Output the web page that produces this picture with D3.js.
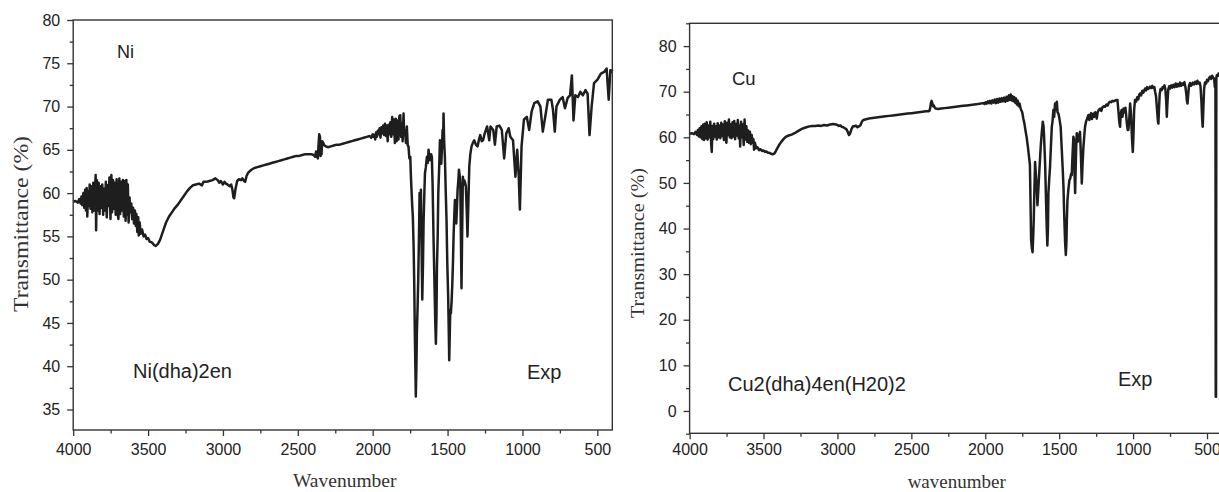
<!DOCTYPE html>
<html>
<head>
<meta charset="utf-8">
<script src="https://cdn.jsdelivr.net/npm/d3@7/dist/d3.min.js"></script>
<style>
  html, body { margin: 0; padding: 0; background: #fff; }
  svg { display: block; }
</style>
</head>
<body>
<svg id="chart" width="1219" height="492"></svg>
<script>
// ---------------- DATA ----------------
const xMajorTicks = [4000, 3500, 3000, 2500, 2000, 1500, 1000, 500];
const xMinorTicks = [3750, 3250, 2750, 2250, 1750, 1250, 750];
const niYTicks = [35, 40, 45, 50, 55, 60, 65, 70, 75, 80];
const niYMinor = [37.5, 42.5, 47.5, 52.5, 57.5, 62.5, 67.5, 72.5, 77.5];
const cuYTicks = [0, 10, 20, 30, 40, 50, 60, 70, 80];
const cuYMinor = [-5, 5, 15, 25, 35, 45, 55, 65, 75, 85];

const niLabels = ["Ni", "Ni(dha)2en", "Exp"];
const cuLabels = ["Cu", "Cu2(dha)4en(H20)2", "Exp"];

// Ni(dha)2en spectrum: [wavenumber, transmittance %]
const niSpectrum = [
[4000,59.0],[3985,59.1],[3970,58.9],[3960,59.3],[3950,58.8],[3945,59.6],[3940,58.6],[3932,60.0],[3926,58.3],[3920,60.4],
[3915,58.0],[3910,60.6],[3906,57.3],[3900,60.2],[3895,58.5],[3890,61.0],[3884,58.2],[3878,60.8],[3872,57.8],[3866,61.2],
[3860,58.0],[3854,60.5],[3850,62.1],[3847,55.7],[3842,61.5],[3836,58.0],[3830,61.2],[3824,57.6],[3818,60.8],[3812,58.3],
[3806,61.0],[3800,57.5],[3794,60.5],[3788,58.0],[3782,61.3],[3776,57.2],[3770,60.9],[3764,58.5],[3758,61.8],[3751,57.0],
[3745,62.1],[3740,57.8],[3734,61.5],[3728,58.2],[3722,61.2],[3716,57.5],[3710,61.6],[3703,57.7],[3698,57.0],[3692,61.7],
[3686,57.6],[3680,61.3],[3674,58.0],[3668,61.5],[3662,57.3],[3656,61.4],[3650,56.8],[3645,61.5],[3640,57.5],[3635,61.0],
[3630,56.6],[3624,59.5],[3618,57.8],[3612,58.8],[3606,57.0],[3600,58.3],[3594,56.5],[3588,58.0],[3582,56.2],[3578,57.6],
[3572,55.5],[3566,57.2],[3562,55.1],[3556,56.6],[3550,55.3],[3540,55.8],[3530,55.0],[3520,55.2],[3510,54.7],[3500,54.8],
[3490,54.4],[3475,54.3],[3460,54.0],[3448,53.9],[3435,54.1],[3420,54.6],[3400,55.6],[3380,56.6],[3360,57.3],[3340,57.8],
[3320,58.3],[3300,58.7],[3280,59.2],[3260,59.7],[3240,60.2],[3220,60.6],[3200,60.9],[3180,61.0],[3160,61.1],[3140,60.9],
[3130,61.3],[3110,61.3],[3090,61.4],[3070,61.5],[3050,61.7],[3035,61.5],[3025,61.2],[3015,61.4],[3000,61.0],[2990,61.3],
[2980,61.1],[2970,61.0],[2955,60.8],[2945,61.0],[2937,60.4],[2930,59.5],[2925,59.4],[2916,60.5],[2905,61.4],[2893,61.6],
[2880,61.5],[2870,61.7],[2860,61.4],[2852,61.3],[2842,62.0],[2830,62.4],[2810,62.7],[2790,62.9],[2770,63.0],[2750,63.1],
[2730,63.2],[2710,63.3],[2690,63.4],[2670,63.5],[2650,63.6],[2630,63.7],[2610,63.8],[2590,63.9],[2570,64.0],[2550,64.1],
[2530,64.2],[2510,64.3],[2490,64.3],[2470,64.4],[2450,64.5],[2430,64.5],[2410,64.5],[2395,64.4],[2385,64.2],[2378,64.8],
[2372,64.2],[2366,64.0],[2362,65.5],[2357,66.8],[2352,66.5],[2348,64.3],[2342,64.5],[2337,66.0],[2330,65.8],[2322,65.5],
[2312,65.4],[2300,65.3],[2280,65.4],[2260,65.5],[2240,65.6],[2220,65.6],[2200,65.7],[2180,65.8],[2160,65.9],[2140,66.0],
[2120,66.1],[2100,66.2],[2080,66.3],[2060,66.4],[2040,66.5],[2020,66.6],[2010,66.4],[2000,66.8],[1995,66.5],[1990,66.7],
[1983,66.2],[1978,67.0],[1972,66.5],[1966,67.2],[1960,66.8],[1954,67.5],[1948,66.4],[1942,67.6],[1936,66.9],[1930,67.8],
[1924,66.7],[1918,68.0],[1912,66.6],[1906,67.8],[1900,66.0],[1894,67.9],[1888,66.8],[1882,68.2],[1876,66.5],[1870,68.8],
[1864,66.8],[1858,68.5],[1852,65.8],[1846,68.6],[1840,66.0],[1834,68.4],[1828,66.2],[1822,68.9],[1816,69.0],[1810,66.5],
[1807,68.1],[1800,66.0],[1794,69.2],[1790,66.8],[1785,67.3],[1778,65.8],[1772,67.7],[1766,65.5],[1761,65.4],[1755,64.0],
[1749,64.2],[1745,62.0],[1741,60.4],[1736,58.5],[1732,57.3],[1727,54.0],[1723,50.0],[1718,43.0],[1712,36.5],[1708,40.0],
[1705,43.8],[1700,47.0],[1696,50.0],[1691,55.0],[1687,60.0],[1682,58.5],[1678,60.4],[1673,53.0],[1669,47.7],[1664,52.0],
[1660,56.9],[1655,60.0],[1651,62.3],[1645,63.0],[1638,64.2],[1632,63.5],[1627,65.0],[1621,64.0],[1616,63.8],[1610,64.5],
[1605,64.2],[1600,61.0],[1594,55.0],[1588,50.0],[1582,45.0],[1578,42.6],[1574,46.0],[1571,51.5],[1566,55.0],[1562,60.0],
[1556,63.0],[1551,66.1],[1546,64.5],[1542,63.4],[1537,65.5],[1533,67.3],[1530,66.0],[1527,69.2],[1523,66.0],[1518,64.2],
[1512,60.0],[1507,56.9],[1502,52.0],[1496,48.0],[1492,44.0],[1489,40.7],[1485,44.0],[1482,46.5],[1478,46.1],[1473,47.5],
[1469,49.2],[1464,52.0],[1460,55.0],[1456,57.0],[1451,59.2],[1446,57.5],[1442,56.5],[1437,58.5],[1433,60.4],[1428,61.5],
[1424,62.7],[1419,62.0],[1415,61.1],[1411,55.0],[1407,49.0],[1403,55.0],[1398,61.9],[1393,61.0],[1389,61.5],[1383,61.2],
[1378,60.8],[1372,58.0],[1367,55.0],[1361,59.0],[1355,63.1],[1348,64.5],[1340,65.4],[1331,65.8],[1322,66.1],[1311,65.6],
[1300,65.4],[1290,66.2],[1282,66.7],[1272,66.0],[1263,66.1],[1252,66.9],[1236,67.7],[1222,66.1],[1213,67.7],[1195,67.3],
[1184,65.6],[1172,67.7],[1154,67.8],[1138,67.3],[1122,64.0],[1108,66.9],[1092,67.5],[1081,66.5],[1063,66.1],[1047,61.9],
[1035,65.0],[1025,62.0],[1017,58.1],[1006,65.4],[990,68.5],[971,68.8],[955,67.3],[939,69.4],[921,70.4],[898,70.6],
[880,70.0],[864,67.1],[848,68.8],[830,70.8],[807,70.8],[796,69.6],[784,67.1],[773,70.0],[750,70.8],[732,71.1],
[716,69.8],[698,71.0],[682,71.3],[670,73.6],[659,68.4],[647,71.3],[629,71.1],[613,71.7],[597,71.3],[579,71.9],
[565,71.5],[552,66.7],[538,70.0],[522,72.7],[499,73.1],[476,73.8],[454,74.0],[438,74.4],[424,70.8],[413,74.2],
[405,74.0],[400,74.3]
];

// Cu2(dha)4en(H20)2 spectrum: [wavenumber, transmittance %]
const cuSpectrum = [
[4000,60.8],[3985,60.9],[3970,60.7],[3960,61.2],[3950,60.5],[3944,61.6],[3938,60.2],[3932,62.0],[3926,60.0],[3920,62.4],
[3914,59.6],[3908,62.8],[3902,59.4],[3896,63.0],[3890,59.8],[3884,63.3],[3878,59.5],[3872,62.6],[3866,60.0],[3860,63.4],
[3854,58.5],[3850,56.8],[3846,62.5],[3840,59.6],[3834,63.0],[3828,60.2],[3822,62.4],[3816,59.5],[3810,63.1],[3804,60.0],
[3798,62.6],[3792,59.8],[3786,63.2],[3780,60.3],[3774,62.8],[3768,59.4],[3762,63.5],[3756,60.0],[3751,58.8],[3746,63.2],
[3740,60.5],[3734,63.9],[3728,60.0],[3722,62.8],[3716,59.8],[3710,63.3],[3704,60.2],[3698,63.6],[3692,59.6],[3686,62.9],
[3680,60.4],[3674,63.8],[3668,59.8],[3662,62.5],[3658,58.0],[3652,63.4],[3646,60.0],[3640,62.8],[3634,58.3],[3628,63.9],
[3622,59.5],[3616,62.4],[3610,59.0],[3604,61.5],[3598,58.8],[3592,61.2],[3586,58.5],[3580,60.5],[3574,58.8],[3568,59.6],
[3564,57.3],[3558,58.8],[3550,57.6],[3540,57.8],[3530,57.2],[3520,57.4],[3510,57.0],[3500,57.1],[3490,56.8],[3480,56.9],
[3470,56.6],[3460,56.6],[3450,56.4],[3440,56.3],[3428,56.4],[3418,56.9],[3408,57.5],[3395,58.3],[3380,59.0],[3365,59.6],
[3350,60.1],[3330,60.4],[3310,60.6],[3290,60.9],[3270,61.3],[3250,61.7],[3230,62.0],[3210,62.2],[3190,62.4],[3170,62.5],
[3150,62.5],[3130,62.6],[3110,62.5],[3090,62.7],[3070,62.6],[3050,62.8],[3030,62.9],[3010,62.8],[3000,62.7],[2990,62.5],
[2980,62.6],[2970,62.3],[2960,62.2],[2950,62.0],[2940,61.8],[2930,61.2],[2922,60.5],[2915,60.8],[2905,61.8],[2895,62.4],
[2885,62.4],[2875,62.6],[2865,62.2],[2855,62.4],[2845,62.6],[2835,63.4],[2825,63.8],[2800,64.0],[2775,64.2],[2750,64.3],
[2725,64.4],[2700,64.5],[2675,64.6],[2650,64.7],[2625,64.8],[2600,64.9],[2575,65.0],[2550,65.1],[2525,65.2],[2500,65.3],
[2475,65.4],[2450,65.5],[2425,65.6],[2400,65.7],[2385,65.7],[2378,65.8],[2372,66.5],[2368,67.5],[2363,68.0],[2358,67.5],
[2353,66.8],[2348,67.0],[2343,66.6],[2335,66.3],[2320,66.2],[2300,66.3],[2275,66.4],[2250,66.5],[2225,66.6],[2200,66.7],
[2175,66.8],[2150,66.9],[2125,67.0],[2100,67.1],[2075,67.2],[2050,67.3],[2030,67.4],[2015,67.5],[2005,67.3],[1998,67.7],
[1990,67.4],[1982,67.9],[1975,67.5],[1968,68.0],[1960,67.4],[1952,68.1],[1944,67.6],[1936,68.3],[1928,67.5],[1920,68.4],
[1912,67.6],[1904,68.5],[1896,67.8],[1888,68.6],[1880,67.9],[1872,68.7],[1864,67.8],[1856,68.9],[1848,68.0],[1840,69.2],
[1834,68.2],[1828,69.4],[1822,68.1],[1816,69.0],[1810,67.9],[1804,68.8],[1798,67.6],[1792,68.5],[1786,67.2],[1780,68.0],
[1774,66.8],[1768,67.4],[1760,66.2],[1750,65.5],[1742,64.0],[1735,63.0],[1728,61.5],[1720,60.0],[1712,58.0],[1705,56.0],
[1698,54.0],[1694,46.0],[1690,37.5],[1684,35.5],[1680,34.8],[1676,38.0],[1672,42.0],[1668,48.0],[1663,54.6],[1658,52.0],
[1652,49.2],[1647,45.1],[1641,48.5],[1634,52.8],[1625,57.9],[1618,61.0],[1611,63.4],[1606,62.5],[1602,60.1],[1595,54.0],
[1589,46.2],[1584,40.0],[1580,36.3],[1576,40.0],[1573,47.7],[1567,51.0],[1562,53.5],[1556,58.0],[1550,62.3],[1545,63.5],
[1539,66.0],[1534,64.5],[1528,67.4],[1522,66.0],[1516,67.8],[1511,65.5],[1505,65.2],[1498,64.0],[1490,62.3],[1482,57.0],
[1476,53.0],[1471,49.2],[1466,43.0],[1460,37.0],[1455,34.2],[1451,37.0],[1448,42.0],[1444,46.2],[1438,48.5],[1431,50.6],
[1425,51.0],[1419,52.0],[1415,51.7],[1410,56.0],[1404,60.1],[1400,59.5],[1396,52.0],[1392,47.8],[1388,54.0],[1384,59.0],
[1381,60.9],[1375,59.0],[1370,59.4],[1364,60.5],[1359,61.2],[1353,56.0],[1347,49.9],[1342,54.0],[1336,57.9],[1330,60.5],
[1325,62.3],[1318,63.5],[1310,64.2],[1302,64.9],[1296,63.8],[1290,64.8],[1284,65.3],[1278,64.0],[1272,65.0],[1268,65.2],
[1262,64.5],[1256,65.5],[1250,65.0],[1246,64.1],[1240,65.5],[1232,66.0],[1223,66.3],[1215,65.8],[1207,66.6],[1198,66.8],
[1190,66.7],[1180,67.2],[1172,67.0],[1164,67.6],[1156,67.8],[1148,67.7],[1140,68.0],[1130,67.9],[1120,68.1],[1112,68.2],
[1106,68.2],[1100,66.0],[1095,64.0],[1091,62.8],[1088,62.3],[1084,65.0],[1078,66.0],[1072,64.5],[1065,66.3],[1058,65.5],
[1052,66.5],[1047,64.9],[1042,63.0],[1036,61.6],[1032,61.6],[1026,64.0],[1020,67.4],[1014,65.0],[1008,60.0],[1002,56.8],
[998,60.0],[993,66.0],[987,68.2],[980,67.8],[972,68.8],[965,68.3],[958,69.4],[953,69.6],[946,69.2],[938,70.2],
[930,69.8],[919,70.7],[912,70.3],[905,71.0],[898,70.6],[885,71.1],[878,70.8],[870,71.3],[862,70.8],[856,71.0],
[851,70.0],[845,69.0],[838,66.0],[832,63.5],[829,63.0],[825,66.0],[820,69.5],[814,70.6],[806,70.4],[800,71.0],
[794,70.8],[788,71.4],[782,70.6],[776,68.0],[772,64.5],[768,67.5],[762,70.5],[756,71.2],[750,70.7],[742,71.4],
[735,70.9],[728,71.5],[720,71.0],[712,71.8],[705,71.1],[698,71.7],[690,71.2],[682,72.0],[675,71.3],[668,71.8],
[660,71.5],[653,72.1],[646,71.0],[640,69.5],[636,68.0],[632,67.4],[628,69.0],[622,71.3],[615,71.9],[608,71.3],
[603,71.5],[596,72.0],[588,71.6],[580,72.2],[572,71.7],[565,72.4],[558,71.8],[550,72.0],[544,71.2],[538,68.0],
[533,64.0],[529,62.3],[525,66.0],[520,70.5],[514,72.0],[506,71.8],[500,72.6],[494,72.3],[486,73.0],[479,73.3],
[472,72.8],[465,73.5],[458,73.0],[452,72.9],[447,71.0],[443,72.0],[441,3.1],[439,3.1],[437,73.0],[434,73.6],
[428,73.4],[422,74.0],[418,73.8],[410,74.1],[403,74.0]
];

// ---------------- DRAWING ----------------
const svg = d3.select("#chart");
const tickFont = "'Liberation Sans', Arial, sans-serif";
const titleFont = "'Liberation Serif', 'Times New Roman', serif";
const ink = "#1e1e1e";

function drawPanel(cfg) {
  const x = d3.scaleLinear().domain([4000, 400]).range([cfg.left, cfg.right]);
  const y = d3.scaleLinear().domain(cfg.yDomain).range([cfg.bottom, cfg.top]);
  const g = svg.append("g");

  // minor ticks
  g.append("g").attr("transform", `translate(0,${cfg.bottom})`)
    .call(d3.axisBottom(x).tickValues(xMinorTicks).tickSize(3.5).tickFormat(""))
    .call(a => a.select(".domain").remove());
  g.append("g").attr("transform", `translate(${cfg.left},0)`)
    .call(d3.axisLeft(y).tickValues(cfg.yMinor).tickSize(3.5).tickFormat(""))
    .call(a => a.select(".domain").remove());

  // major ticks with labels
  g.append("g").attr("transform", `translate(0,${cfg.bottom})`)
    .call(d3.axisBottom(x).tickValues(xMajorTicks).tickSize(6).tickPadding(cfg.xPad).tickFormat(d3.format("d")))
    .call(a => a.select(".domain").remove());
  g.append("g").attr("transform", `translate(${cfg.left},0)`)
    .call(d3.axisLeft(y).tickValues(cfg.yTicks).tickSize(6).tickPadding(cfg.yPad).tickFormat(d3.format("d")))
    .call(a => a.select(".domain").remove());

  g.selectAll(".tick line").attr("stroke", "#333").attr("stroke-width", 1.3);
  g.selectAll(".tick text").attr("font-family", tickFont).attr("font-size", 16).attr("fill", "#222");

  // spectrum
  const line = d3.line().x(d => x(d[0])).y(d => y(d[1]));
  g.append("path").datum(cfg.data)
    .attr("fill", "none").attr("stroke", ink).attr("stroke-width", 2.5)
    .attr("stroke-linejoin", "round").attr("d", line);

  // frame
  g.append("rect")
    .attr("x", cfg.left).attr("y", cfg.top)
    .attr("width", cfg.right - cfg.left).attr("height", cfg.bottom - cfg.top)
    .attr("fill", "none").attr("stroke", "#333").attr("stroke-width", 1.4);

  // axis titles
  g.append("text")
    .attr("transform", `translate(${cfg.yTitleX},${cfg.yTitleY}) rotate(-90)`)
    .attr("text-anchor", "middle").attr("font-family", titleFont)
    .attr("font-size", cfg.yTitleSize).attr("fill", "#333")
    .attr("textLength", cfg.yTitleLen).attr("lengthAdjust", "spacingAndGlyphs")
    .text("Transmittance (%)");
  g.append("text")
    .attr("x", (cfg.left + cfg.right) / 2 + cfg.xTitleShift).attr("y", cfg.xTitleY)
    .attr("text-anchor", "middle").attr("font-family", titleFont)
    .attr("font-size", cfg.xTitleSize).attr("fill", "#333")
    .text(cfg.xTitle);

  // annotations
  cfg.notes.forEach(n => {
    g.append("text").attr("x", n.x).attr("y", n.y)
      .attr("font-family", tickFont).attr("font-size", n.size).attr("fill", "#222")
      .text(n.text);
  });
}

drawPanel({
  data: niSpectrum, left: 73.2, right: 612.3, top: 20, bottom: 430,
  yDomain: [32.63, 80], yTicks: niYTicks, yMinor: niYMinor,
  xPad: 8, yPad: 7,
  yTitleX: 28, yTitleY: 224, yTitleSize: 20, yTitleLen: 176,
  xTitle: "Wavenumber", xTitleY: 487, xTitleSize: 19.5, xTitleShift: 2,
  notes: [
    { text: niLabels[0], x: 117, y: 58, size: 18 },
    { text: niLabels[1], x: 133, y: 378, size: 20 },
    { text: niLabels[2], x: 527, y: 379, size: 20 }
  ]
});

drawPanel({
  data: cuSpectrum, left: 689.6, right: 1221.8, top: 23.3, bottom: 433.3,
  yDomain: [-4.9, 85], yTicks: cuYTicks, yMinor: cuYMinor,
  xPad: 4, yPad: 7,
  yTitleX: 644, yTitleY: 243, yTitleSize: 19, yTitleLen: 150,
  xTitle: "wavenumber", xTitleY: 488, xTitleSize: 19, xTitleShift: 1,
  notes: [
    { text: cuLabels[0], x: 732, y: 85, size: 18.5 },
    { text: cuLabels[1], x: 728, y: 391, size: 20 },
    { text: cuLabels[2], x: 1118, y: 386, size: 20 }
  ]
});
</script>
</body>
</html>
